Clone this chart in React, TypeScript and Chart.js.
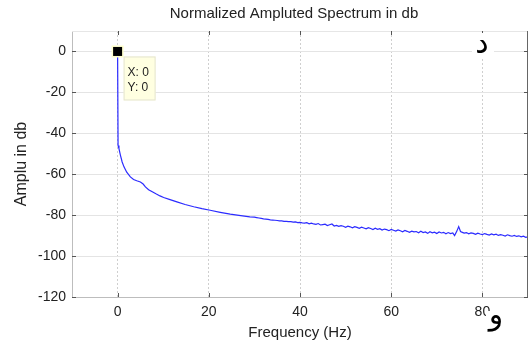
import React, { useEffect, useRef } from "react";
import { Chart, registerables } from "chart.js";

Chart.register(...registerables);

const chartTitle = "Normalized Ampluted Spectrum in db";
const xAxisTitle = "Frequency (Hz)";
const yAxisTitle = "Amplu in db";
const xTickValues = [0, 20, 40, 60, 80];
const yTickValues = [0, -20, -40, -60, -80, -100, -120];
const dataTipPoint = { x: 0, y: 0 };
const dataTipLines = ["X: 0", "Y: 0"];
const topMark = "د";
const bottomMark = "و";

const freqHz = [
  0, 0.1, 0.3, 0.6, 1.0, 1.4, 2.0, 2.8, 3.5, 4.2, 5.0, 5.6, 6.1, 6.8, 7.6, 8.5, 9.3, 10.1,
  11.5, 13.0, 14.8, 16.7, 18.5, 20.3, 22.5, 24.7, 27, 29,
  30, 30.5, 31, 31.5, 32, 32.5, 33, 33.5, 34, 34.5, 35, 35.5, 36, 36.5, 37, 37.5, 38, 38.5, 39, 39.5,
  40, 40.5, 41, 41.5, 42, 42.5, 43, 43.5, 44, 44.5, 45, 45.5, 46, 46.5, 47, 47.5, 48, 48.5, 49, 49.5,
  50, 50.5, 51, 51.5, 52, 52.5, 53, 53.5, 54, 54.5, 55, 55.5, 56, 56.5, 57, 57.5, 58, 58.5, 59, 59.5,
  60, 60.5, 61, 61.5, 62, 62.5, 63, 63.5, 64, 64.5, 65, 65.5, 66, 66.5, 67, 67.5, 68, 68.5, 69, 69.5,
  70, 70.5, 71, 71.5, 72, 72.5, 73, 73.5, 73.9, 74.4, 74.8, 75.2, 75.6, 76, 76.5, 77, 77.5, 78, 78.5, 79, 79.5,
  80, 80.5, 81, 81.5, 82, 82.5, 83, 83.5, 84, 84.5, 85, 85.5, 86, 86.5, 87, 87.5, 88, 88.5, 89, 89.5, 90,
];

const amplitudeDb = [
  0, -45.9, -47.5, -50.5, -54.0, -56.4, -59.0, -61.3, -62.6, -63.2, -63.8, -64.8, -66.2, -67.6, -68.6, -69.7, -70.6, -71.4,
  -72.4, -73.5, -74.8, -75.9, -76.8, -77.6, -78.6, -79.5, -80.2, -80.8,
  -81.0, -81.2, -81.4, -81.6, -81.8, -81.9, -82.1, -82.3, -82.4, -82.5, -82.6, -82.8, -82.8, -83.0, -83.0, -83.2, -83.2, -83.4, -83.3, -83.6,
  -83.5, -83.8, -83.9, -83.7, -84.2, -83.9, -84.3, -84.5, -84.1, -84.8, -84.6, -84.4, -85.1, -84.7, -84.3, -85.3, -85.0, -85.5, -85.1, -85.4,
  -85.9, -85.4, -85.7, -86.2, -85.6, -86.0, -86.4, -85.9, -86.3, -86.7, -86.1, -86.5, -87.0, -86.4, -86.9, -86.6, -87.3, -86.8, -87.1, -87.6,
  -87.0, -87.4, -87.8, -87.2, -87.6, -88.1, -87.5, -87.9, -88.4, -87.8, -88.2, -88.0, -88.6, -87.9, -88.5, -88.2, -88.9, -88.1, -88.6, -88.3,
  -89.0, -88.2, -88.7, -88.4, -89.1, -88.5, -89.0, -88.7, -90.0, -87.8, -85.6, -88.0, -88.4, -88.8, -88.5, -89.1, -88.7, -88.9, -89.4, -88.8, -89.2,
  -89.5, -89.0, -89.4, -89.7, -89.2, -89.6, -89.3, -89.9, -89.5, -89.8, -90.2, -89.6, -90.0, -90.3, -89.9, -90.4, -90.1, -90.6, -90.3, -90.8, -90.6,
];

const FONT = "'Liberation Sans', Arial, sans-serif";

const decorPlugin = {
  id: "decor",
  afterDatasetsDraw(chart: any) {
    const { ctx, chartArea, scales } = chart;
    const { left, right, top, bottom } = chartArea;
    const xs = scales.x;
    const ys = scales.y;
    ctx.save();
    ctx.lineWidth = 1;
    ctx.strokeStyle = "#bdbdbd";
    ctx.beginPath();
    ctx.moveTo(left + 0.5, top);
    ctx.lineTo(left + 0.5, bottom + 0.5);
    ctx.lineTo(right, bottom + 0.5);
    ctx.stroke();
    ctx.strokeStyle = "#e6e6e6";
    ctx.beginPath();
    ctx.moveTo(left, top + 0.5);
    ctx.lineTo(right, top + 0.5);
    ctx.stroke();
    ctx.strokeStyle = "#666";
    ctx.beginPath();
    ctx.moveTo(right - 0.5, top);
    ctx.lineTo(right - 0.5, bottom + 1);
    ctx.stroke();
    const tl = 4;
    ctx.strokeStyle = "#555";
    ctx.beginPath();
    xTickValues.forEach((v) => {
      const px = Math.round(xs.getPixelForValue(v)) + 0.5;
      ctx.moveTo(px, bottom);
      ctx.lineTo(px, bottom - tl);
      ctx.moveTo(px, top);
      ctx.lineTo(px, top + tl);
    });
    yTickValues.forEach((v) => {
      const py = Math.round(ys.getPixelForValue(v)) + 0.5;
      ctx.moveTo(left, py);
      ctx.lineTo(left + tl, py);
      ctx.moveTo(right, py);
      ctx.lineTo(right - tl, py);
    });
    ctx.stroke();
    const mx = xs.getPixelForValue(dataTipPoint.x);
    const my = ys.getPixelForValue(dataTipPoint.y);
    ctx.fillStyle = "#ffffcc";
    ctx.fillRect(mx - 6, my - 6, 12, 12);
    ctx.fillStyle = "#000";
    ctx.fillRect(mx - 4.5, my - 4.5, 9, 9);
    const bx = mx + 6;
    const by = my + 5;
    ctx.fillStyle = "#ffffe1";
    ctx.fillRect(bx, by, 32, 44);
    ctx.strokeStyle = "#e4e4d0";
    ctx.strokeRect(bx + 0.5, by + 0.5, 31, 43);
    ctx.fillStyle = "#222";
    ctx.font = `12px ${FONT}`;
    ctx.textBaseline = "middle";
    ctx.textAlign = "left";
    ctx.fillText(dataTipLines[0], bx + 4, by + 16);
    ctx.fillText(dataTipLines[1], bx + 4, by + 31);
    ctx.restore();
  },
  afterDraw(chart: any) {
    const { ctx, chartArea } = chart;
    ctx.save();
    ctx.fillStyle = "#222";
    ctx.font = `15px ${FONT}`;
    ctx.textAlign = "center";
    ctx.textBaseline = "middle";
    ctx.fillText(chartTitle, (chartArea.left + chartArea.right) / 2 - 6, 14);
    ctx.fillStyle = "#fff";
    ctx.fillRect(472, 33, 22, 25);
    ctx.fillRect(486, 311, 22, 28);
    ctx.fillStyle = "#000";
    ctx.font = `30px 'DejaVu Sans', sans-serif`;
    ctx.fillText(topMark, 482, 45);
    ctx.fillText(bottomMark, 496, 316);
    ctx.restore();
  },
};

export default function App() {
  const ref = useRef<HTMLCanvasElement | null>(null);
  useEffect(() => {
    if (!ref.current) return;
    const points = freqHz.map((f, i) => ({ x: f, y: amplitudeDb[i] }));
    const chart = new Chart(ref.current, {
      type: "line",
      data: {
        datasets: [
          {
            data: points,
            borderColor: "#2b2bff",
            borderWidth: 1.2,
            pointRadius: 0,
            tension: 0,
            fill: false,
          },
        ],
      },
      options: {
        animation: false,
        responsive: false,
        maintainAspectRatio: false,
        layout: { padding: { top: 31, right: 4, left: 0, bottom: 0 } },
        plugins: { legend: { display: false }, tooltip: { enabled: false }, title: { display: false } },
        scales: {
          x: {
            type: "linear",
            min: -10,
            max: 90,
            afterBuildTicks: (scale: any) => {
              scale.ticks = xTickValues.map((v) => ({ value: v }));
            },
            afterFit: (scale: any) => {
              scale.height = 50;
            },
            grid: { color: "#cfcfcf", drawTicks: false, lineWidth: 1 },
            border: { display: false, dash: [2, 2] },
            ticks: { color: "#222", font: { family: FONT, size: 14 }, padding: 7, maxRotation: 0 },
            title: {
              display: true,
              text: xAxisTitle,
              color: "#222",
              font: { family: FONT, size: 15 },
              padding: { top: 0, bottom: 5 },
            },
          },
          y: {
            type: "linear",
            min: -120,
            max: 10,
            afterBuildTicks: (scale: any) => {
              scale.ticks = yTickValues.map((v) => ({ value: v }));
            },
            afterFit: (scale: any) => {
              scale.width = 72;
            },
            grid: { color: "#e4e4e4", drawTicks: false, lineWidth: 1 },
            border: { display: false },
            ticks: { color: "#222", font: { family: FONT, size: 14 }, padding: 6 },
            title: {
              display: true,
              text: yAxisTitle,
              color: "#222",
              font: { family: FONT, size: 16 },
              padding: { top: 12, bottom: 0 },
            },
          },
        },
      },
      plugins: [decorPlugin],
    } as any);
    return () => chart.destroy();
  }, []);
  return (
    <div style={{ position: "absolute", left: 0, top: 0, width: 532, height: 347, background: "#fff" }}>
      <canvas ref={ref} width={532} height={347} style={{ display: "block", width: 532, height: 347 }} />
    </div>
  );
}
